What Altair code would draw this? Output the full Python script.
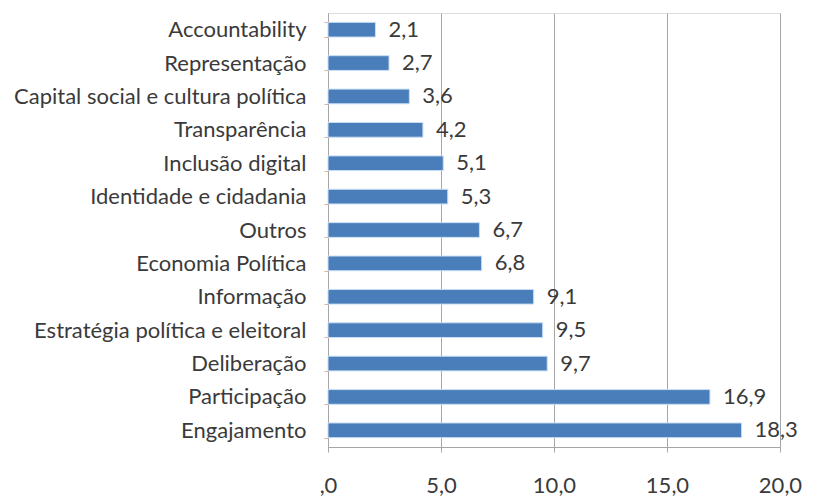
import altair as alt
import pandas as pd

categories = ["Accountability", "Representação", "Capital social e cultura política",
              "Transparência", "Inclusão digital", "Identidade e cidadania", "Outros",
              "Economia Política", "Informação", "Estratégia política e eleitoral",
              "Deliberação", "Participação", "Engajamento"]
values = [2.1, 2.7, 3.6, 4.2, 5.1, 5.3, 6.7, 6.8, 9.1, 9.5, 9.7, 16.9, 18.3]
x_ticks = [0, 5, 10, 15, 20]

df = pd.DataFrame({"cat": categories, "val": values})
df["lbl"] = [f"{v:.1f}".replace(".", ",") for v in values]

FONT = "Lato"
FS = 22
TXT = "#3a3a3a"

x = alt.X("val:Q", scale=alt.Scale(domain=[0, 20], nice=False),
          axis=alt.Axis(values=x_ticks, title=None, grid=True, gridColor="#a6a6a6",
                        domain=True, domainColor="#a6a6a6", ticks=True, tickColor="#a6a6a6",
                        tickSize=5, labelPadding=23, labelFont=FONT, labelFontSize=FS,
                        labelColor=TXT, labelFlush=False,
                        labelExpr="datum.value == 0 ? ',0' : replace(format(datum.value, '.1f'), '.', ',')"))
y = alt.Y("cat:N", sort=categories,
          scale=alt.Scale(paddingInner=0.56, paddingOuter=0.28),
          axis=alt.Axis(title=None, domainColor="#a6a6a6", ticks=True, tickSize=4,
                        tickColor="#e0b0a0", tickBand="extent", labelPadding=18,
                        labelFont=FONT, labelFontSize=FS, labelColor=TXT, labelLimit=400))

bars = alt.Chart(df).mark_bar(color="#4a7ebb", stroke="#c9def3", strokeWidth=1).encode(x=x, y=y)
text = alt.Chart(df).mark_text(align="left", dx=13, font=FONT, fontSize=FS, color=TXT).encode(
    x="val:Q", y=alt.Y("cat:N", sort=categories), text="lbl:N")

chart = (bars + text).properties(
    width=452, height=434,
    autosize=alt.AutoSizeParams(type="none"),
    padding={"left": 320, "top": 5, "right": 40, "bottom": 50},
).configure_view(stroke=None).configure(background="white")

chart.save("out.html", embed_options={"renderer": "svg", "actions": False})
